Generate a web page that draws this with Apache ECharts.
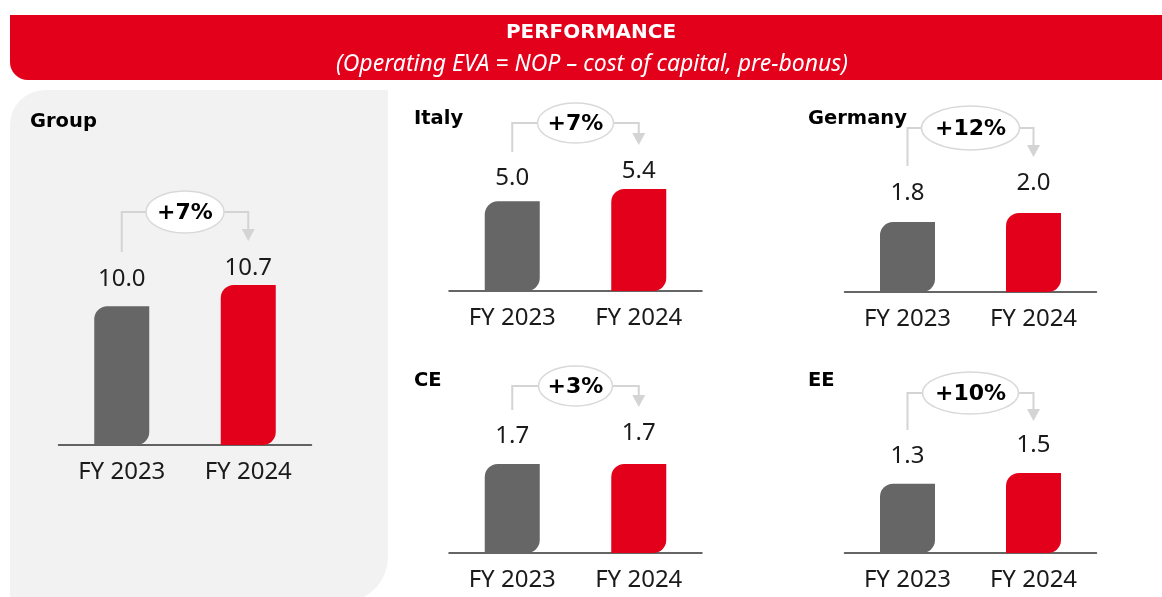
<!DOCTYPE html>
<html><head><meta charset="utf-8">
<script src="https://cdn.jsdelivr.net/npm/echarts@6/dist/echarts.min.js"></script>
<style>html,body{margin:0;padding:0;background:#fff;} #c{width:1162px;height:597px;}</style>
</head><body><div id="c"></div>
<script>
// ---- data ----
const headerTitle = 'PERFORMANCE';
const headerSubtitle = '(Operating EVA = NOP \u2013 cost of capital, pre-bonus)';
const categories = ['FY 2023', 'FY 2024'];
const panelNames = ['Group', 'Italy', 'Germany', 'CE', 'EE'];
const valuesFY2023 = [10.0, 5.0, 1.8, 1.7, 1.3];
const valuesFY2024 = [10.7, 5.4, 2.0, 1.7, 1.5];
const growthLabels = ['+7%', '+7%', '+12%', '+3%', '+10%'];

// ---- layout (positions / sizes) ----
const layout = [
  {left: 58.5, width: 253, top: 285, base: 445, yMin: 5.4, yMax: 10.7, titleX: 30, titleY: 122, hy: 212, leftFrom: 252, arrowTip: 241, rx: 39, ry: 21, gaps: [15, 5]},
  {left: 449, width: 253, top: 189, base: 291, yMin: 2.1, yMax: 5.4, titleX: 414, titleY: 119, hy: 123, leftFrom: 152, arrowTip: 145, rx: 38, ry: 20, gaps: [11, 6]},
  {left: 844.5, width: 252, top: 213, base: 292, yMin: 0.26, yMax: 2.0, titleX: 808, titleY: 119, hy: 128, leftFrom: 166, arrowTip: 157, rx: 49, ry: 22, gaps: [17, 18]},
  {left: 449, width: 253, top: 464, base: 553, yMin: 0, yMax: 1.7, titleX: 414, titleY: 381, hy: 386, leftFrom: 410, arrowTip: 407, rx: 37, ry: 20, gaps: [16, 19]},
  {left: 844.5, width: 252, top: 473, base: 553, yMin: 0, yMax: 1.5, titleX: 808, titleY: 381, hy: 393, leftFrom: 430, arrowTip: 421, rx: 48, ry: 21, gaps: [16, 16]}
];
const RED = '#E2001A', GREY = '#666666', TXT = '#1a1a1a';
const REG = '"Noto Sans", sans-serif';
const BOLD = '"DejaVu Sans", sans-serif';

const chart = echarts.init(document.getElementById('c'), null, {renderer: 'canvas'});

const grids = [], xAxes = [], yAxes = [], series = [];
layout.forEach((L, i) => {
  grids.push({left: L.left, top: L.top, width: L.width, height: L.base - L.top, containLabel: false, outerBoundsMode: 'none'});
  xAxes.push({
    type: 'category', gridIndex: i, data: categories,
    axisTick: {show: false},
    axisLine: {onZero: false, lineStyle: {color: '#333', width: 1.5}},
    axisLabel: {fontSize: 24, color: TXT, fontFamily: REG, margin: 15}
  });
  yAxes.push({type: 'value', gridIndex: i, min: L.yMin, max: L.yMax, show: false, splitLine: {show: false}});
  series.push({
    type: 'bar', xAxisIndex: i, yAxisIndex: i, barWidth: 55, silent: true,
    itemStyle: {borderRadius: [13, 0, 13, 0]},
    label: {show: true, position: 'top', fontSize: 24, color: TXT, fontFamily: REG,
      formatter: p => Number(p.value).toFixed(1)},
    data: [
      {value: valuesFY2023[i], itemStyle: {color: GREY}, label: {distance: L.gaps[0]}},
      {value: valuesFY2024[i], itemStyle: {color: RED}, label: {distance: L.gaps[1]}}
    ]
  });
});

chart.setOption({
  animation: false,
  backgroundColor: '#ffffff',
  grid: grids, xAxis: xAxes, yAxis: yAxes, series: series
});

const els = [];
els.push({type: 'rect', z: -10, shape: {x: 10, y: 15, width: 1162, height: 65, r: [0, 0, 0, 18]}, style: {fill: RED}});
els.push({type: 'text', z: 5, x: 591, y: 33, style: {text: headerTitle, fill: '#fff', font: 'bold 20px ' + BOLD, align: 'center', verticalAlign: 'middle'}});
els.push({type: 'text', z: 5, x: 592, y: 64, style: {text: headerSubtitle, fill: '#fff', font: 'italic 23px ' + REG, align: 'center', verticalAlign: 'middle'}});
els.push({type: 'rect', z: -10, shape: {x: 10, y: 90, width: 378, height: 512, r: [35, 0, 45, 0]}, style: {fill: '#F2F2F2'}});

layout.forEach((L, i) => {
  els.push({type: 'text', z: 5, x: L.titleX, y: L.titleY, style: {text: panelNames[i], fill: '#000', font: 'bold 19.5px ' + BOLD, align: 'left', verticalAlign: 'middle'}});
  const x0 = chart.convertToPixel({xAxisIndex: i}, categories[0]);
  const x1 = chart.convertToPixel({xAxisIndex: i}, categories[1]);
  const cx = (x0 + x1) / 2;
  const lineStyle = {stroke: '#D4D4D4', lineWidth: 2, fill: null};
  els.push({type: 'polyline', z: 20, shape: {points: [[x0, L.leftFrom], [x0, L.hy], [cx - L.rx, L.hy]]}, style: lineStyle});
  els.push({type: 'polyline', z: 20, shape: {points: [[cx + L.rx, L.hy], [x1, L.hy], [x1, L.arrowTip - 10]]}, style: lineStyle});
  els.push({type: 'polygon', z: 20, shape: {points: [[x1 - 6.5, L.arrowTip - 12], [x1 + 6.5, L.arrowTip - 12], [x1, L.arrowTip]]}, style: {fill: '#D4D4D4'}});
  els.push({type: 'ellipse', z: 21, shape: {cx: cx, cy: L.hy, rx: L.rx, ry: L.ry}, style: {fill: '#fff', stroke: '#D9D9D9', lineWidth: 1.5}});
  els.push({type: 'text', z: 22, x: cx, y: L.hy + 1, style: {text: growthLabels[i], fill: '#000', font: 'bold 22px ' + BOLD, align: 'center', verticalAlign: 'middle'}});
});

chart.setOption({graphic: {elements: els}});
</script>
</body></html>
